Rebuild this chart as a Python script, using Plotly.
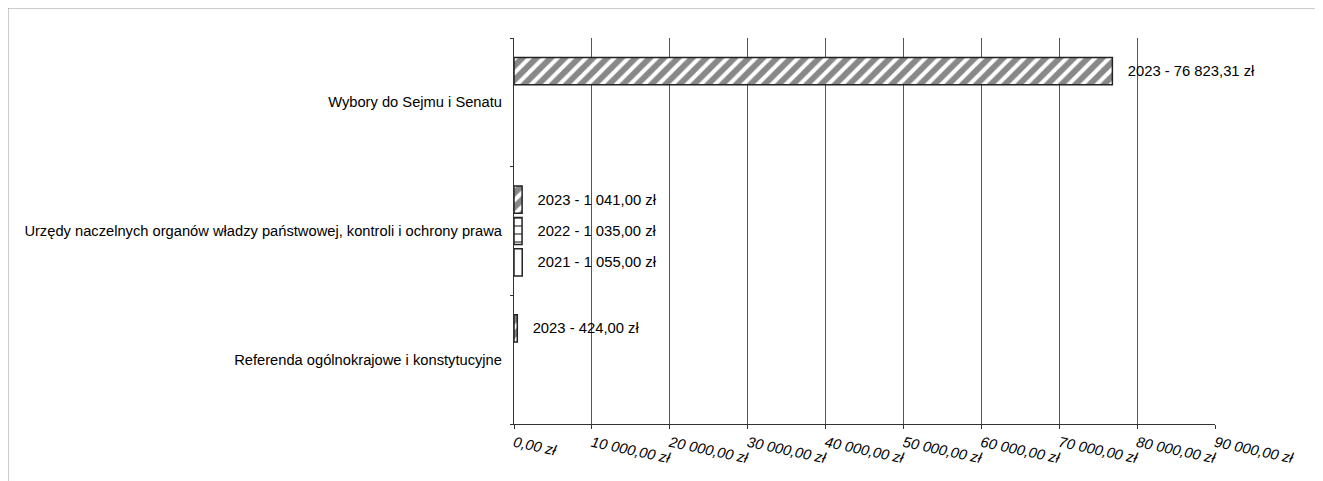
import plotly.graph_objects as go

categories = [
    "Wybory do Sejmu i Senatu",
    "Urzędy naczelnych organów władzy państwowej, kontroli i ochrony prawa",
    "Referenda ogólnokrajowe i konstytucyjne",
]
years = ["2021", "2022", "2023"]
values_2021 = [None, 1055.00, None]
values_2022 = [None, 1035.00, None]
values_2023 = [76823.31, 1041.00, 424.00]

tick_vals = [0, 10000, 20000, 30000, 40000, 50000, 60000, 70000, 80000, 90000]


def pl(v):
    s = f"{v:,.2f}"
    return s.replace(",", " ").replace(".", ",")


tick_text = [f"{pl(t)} zł" for t in tick_vals]

FONT = "Liberation Sans, Arial, sans-serif"
DARK = "#222222"

styles = {
    "2021": dict(color="white", pattern=dict(shape="")),
    "2022": dict(color="white", pattern=dict(shape="-", fgcolor="#111111", bgcolor="white", size=8, solidity=0.25)),
    "2023": dict(color="white", pattern=dict(shape="/", fgcolor="#111111", bgcolor="white", size=10, solidity=0.6)),
}

fig = go.Figure()
for year, vals in zip(years, [values_2021, values_2022, values_2023]):
    texts = [("\u00a0\u00a0\u00a0" + f"{year} - {pl(v)} zł") if v is not None else "" for v in vals]
    st = styles[year]
    fig.add_trace(go.Bar(
        y=categories,
        x=vals,
        orientation="h",
        name=year,
        text=texts,
        textposition="outside",
        cliponaxis=False,
        textfont=dict(family=FONT, size=14.8, color="black"),
        marker=dict(color=st["color"], pattern=st["pattern"],
                    line=dict(color=DARK, width=1.5)),
    ))

fig.update_layout(
    width=1323, height=481,
    margin=dict(l=506, r=116, t=30, b=65),
    paper_bgcolor="white", plot_bgcolor="white",
    barmode="group", bargap=0.27, bargroupgap=0.13,
    showlegend=False,
    font=dict(family=FONT, size=14.7, color="black"),
    shapes=[dict(type="rect", xref="paper", yref="paper",
                 x0=-0.7218, x1=1.144, y0=-0.2, y1=1.0777,
                 line=dict(color="#9a9a9a", width=1), fillcolor="rgba(0,0,0,0)", layer="below")],
)
fig.update_xaxes(
    range=[0, 90000], tickvals=tick_vals, ticktext=tick_text,
    tickangle=12, tickfont=dict(family=FONT, size=14.7, style="italic", color="black"),
    showgrid=True, gridcolor="#555555", gridwidth=1,
    showline=True, linecolor="#333333", linewidth=1.2,
    ticks="outside", ticklen=4, tickcolor="#333333",
    zeroline=False, fixedrange=True,
)
fig.update_yaxes(
    categoryorder="array", categoryarray=categories[::-1],
    showline=True, linecolor="#333333", linewidth=1.2,
    ticks="outside", tickson="boundaries", ticklen=3, tickcolor="#333333",
    showgrid=False, zeroline=False, ticklabelstandoff=8,
    tickfont=dict(family=FONT, size=14.7, color="black"),
)

fig.write_html("out.html")
